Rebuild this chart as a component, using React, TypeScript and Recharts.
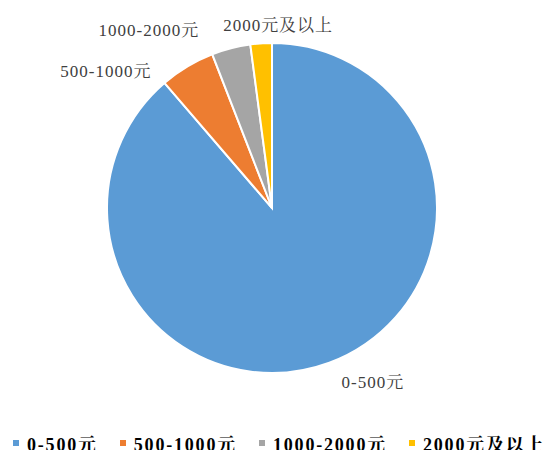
import React from 'react';
import { PieChart, Pie, Cell, Legend } from 'recharts';

// spending brackets and their share (%)
const categories = ['0-500元', '500-1000元', '1000-2000元', '2000元及以上'];
const shares = [88.7, 5.4, 3.8, 2.1];
const colors = ['#5B9BD5', '#ED7D31', '#A5A5A5', '#FFC000'];

const data = categories.map((name, i) => ({ name, value: shares[i] }));

const RADIAN = Math.PI / 180;
const LABEL_FONT = '"Liberation Serif", "Noto Serif CJK SC", serif';

// small nudges so the outside labels sit clear of the slices
const labelNudge = [
  { dx: 7, dy: 6, anchor: 'start' },
  { dx: -28, dy: 18, anchor: 'end' },
  { dx: -28, dy: -3, anchor: 'end' },
  { dx: 18, dy: -3, anchor: 'middle' },
];

const renderLabel = (props: any) => {
  const { cx, cy, midAngle, outerRadius, index, name } = props;
  const r = outerRadius + 15;
  const x = cx + r * Math.cos(-midAngle * RADIAN);
  const y = cy + r * Math.sin(-midAngle * RADIAN);
  const n = labelNudge[index];
  return (
    <text
      x={x + n.dx}
      y={y + n.dy}
      textAnchor={n.anchor}
      dominantBaseline="central"
      fill="#404040"
      style={{ fontFamily: LABEL_FONT, fontSize: 17, letterSpacing: 1 }}
    >
      {name}
    </text>
  );
};

// legend keeps the series order (recharts would sort it by name otherwise)
const renderLegend = () => (
  <div
    style={{
      display: 'flex',
      whiteSpace: 'nowrap',
      paddingLeft: 13,
      fontFamily: LABEL_FONT,
      fontWeight: 'bold',
      fontSize: 18,
      letterSpacing: 1.8,
      color: '#000',
    }}
  >
    {categories.map((name, i) => (
      <div key={name} style={{ display: 'flex', alignItems: 'center', marginRight: 22 }}>
        <span
          style={{
            display: 'inline-block',
            width: 6,
            height: 6,
            background: colors[i],
            marginRight: 8,
          }}
        />
        <span>{name}</span>
      </div>
    ))}
  </div>
);

export default function App() {
  return (
    <div style={{ position: 'absolute', left: 0, top: 0, width: 543, height: 450, overflow: 'hidden', background: '#fff' }}>
      <PieChart width={543} height={450} margin={{ top: 0, right: 0, bottom: 0, left: 0 }}>
        <Pie
          data={data}
          dataKey="value"
          nameKey="name"
          cx={272}
          cy={208}
          outerRadius={165}
          startAngle={90}
          endAngle={-270}
          stroke="#fff"
          strokeWidth={2}
          label={renderLabel}
          labelLine={false}
          isAnimationActive={false}
        >
          {data.map((d, i) => (
            <Cell key={d.name} fill={colors[i]} />
          ))}
        </Pie>
        <Legend
          content={renderLegend}
          wrapperStyle={{ left: 0, top: 430, width: 700 }}
        />
      </PieChart>
    </div>
  );
}
